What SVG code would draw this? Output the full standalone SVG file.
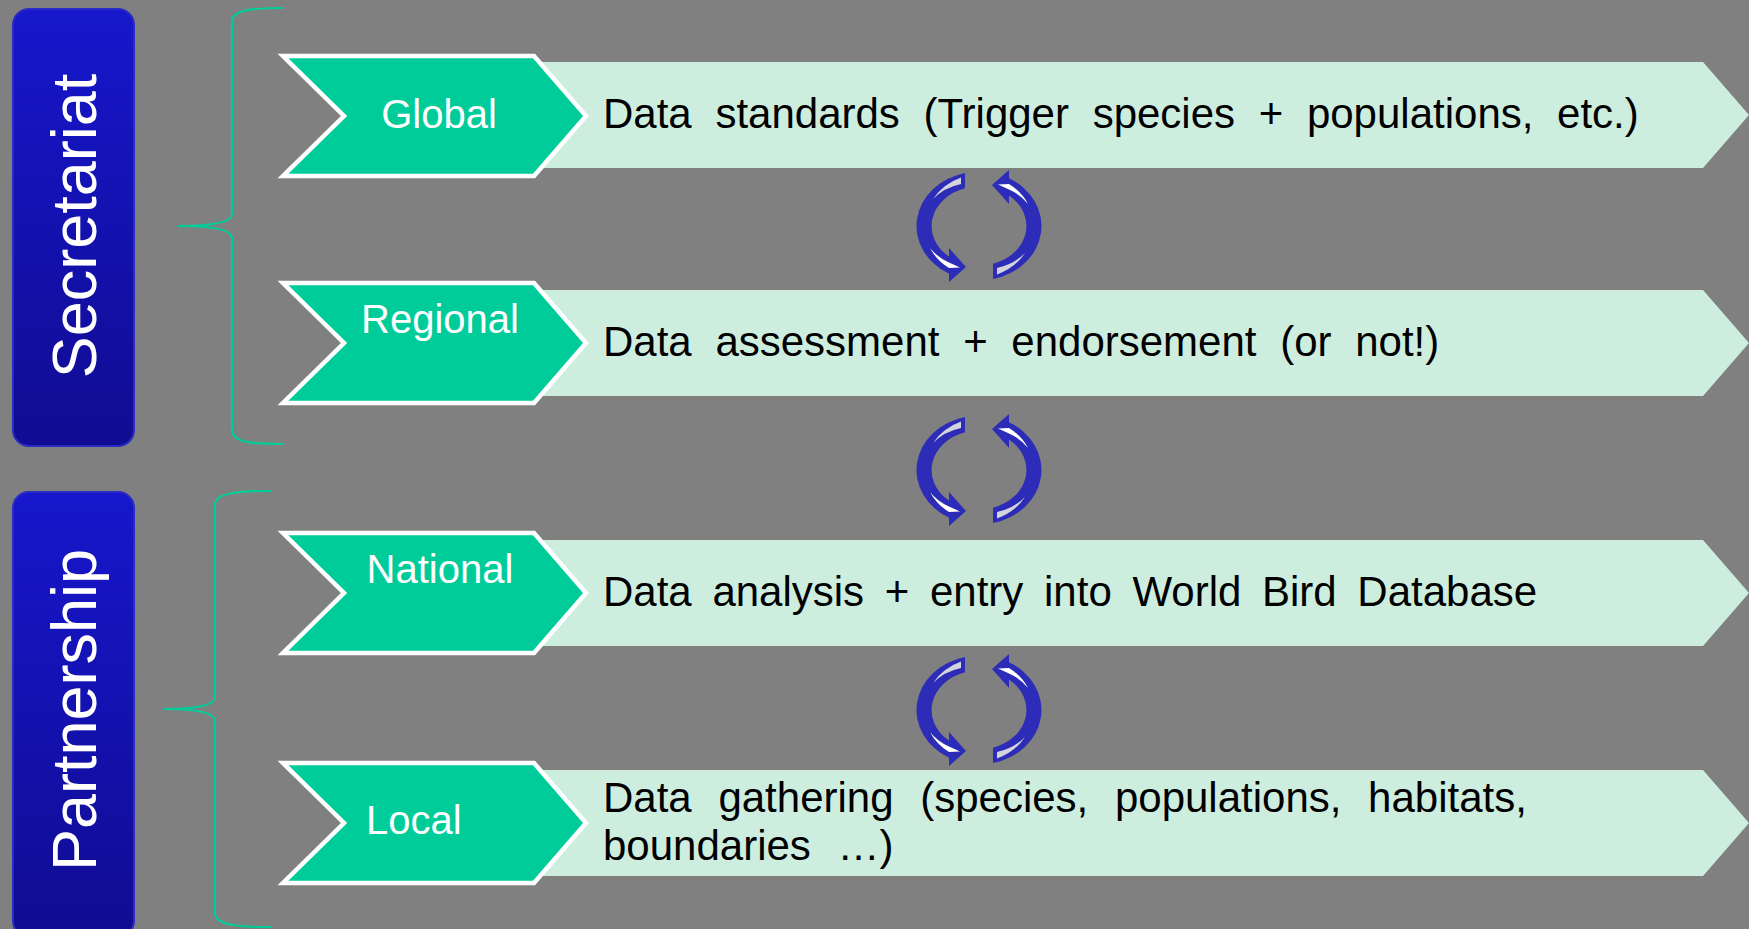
<svg xmlns="http://www.w3.org/2000/svg" xmlns:xlink="http://www.w3.org/1999/xlink" width="1749" height="929" viewBox="0 0 1749 929">
  <style>
    .side { stroke: #2a2ac4; stroke-width: 2; fill: url(#sideFill); }
    .side-label { font-family: "Liberation Sans", Arial, sans-serif; font-size: 63px; fill: #ffffff; text-anchor: middle; }
    .brace { fill: none; stroke: #00cc99; stroke-width: 2.2; }
    .band { fill: #cdeddf; }
    .tag { fill: #00cc99; stroke: #ffffff; stroke-width: 4.5; stroke-linejoin: miter; }
    .tag-label { font-family: "Liberation Sans", Arial, sans-serif; font-size: 40px; fill: #ffffff; }
    .desc { font-family: "Liberation Sans", Arial, sans-serif; font-size: 42px; fill: #000000; }
    .cycle-body { fill: #2c2cb8; }
    .hl-tail { fill: #d4d4dc; }
    .hl-head { fill: #ffffff; }
  </style>
  <defs>
    <linearGradient id="sideFill" x1="0" y1="0" x2="0" y2="1">
      <stop offset="0" stop-color="#1717cc"/>
      <stop offset="1" stop-color="#100c92"/>
    </linearGradient>
    <!-- one half of the refresh symbol: a curved block arrow, centred on (0,0) -->
    <g id="halfCycle">
      <path class="cycle-body" d="M -14,-53.1 A 62.5 54.5 0 0 0 -30,47.8 L -30,56 L -13,41 L -30,22 L -30,30.6 A 47.5 39.5 0 0 1 -14,-37.7 Z"/>
      <!-- glossy highlights: grey wedge at the tail, white wedge into the head -->
      <path class="hl-tail" d="M -18,-48.5 A 58 50 0 0 0 -46,-27 A 53 45 0 0 1 -18,-42 Z"/>
      <path class="hl-head" d="M -49,22 A 58 49 0 0 0 -30,42 L -19,41.5 L -30,36.5 A 52 43 0 0 1 -49,22 Z"/>
    </g>
    <g id="cycle">
      <use xlink:href="#halfCycle"/>
      <use xlink:href="#halfCycle" transform="rotate(180)"/>
    </g>
  </defs>

  <rect width="1749" height="929" fill="#808080"/>

  <!-- left-hand group labels -->
  <g id="secretariat">
    <rect class="side" x="13" y="9" width="121" height="437" rx="16" ry="16"/>
    <text class="side-label" transform="translate(96,226) rotate(-90)">Secretariat</text>
  </g>
  <g id="partnership">
    <rect class="side" x="13" y="492" width="121" height="445" rx="16" ry="16"/>
    <text class="side-label" transform="translate(96,710) rotate(-90)">Partnership</text>
  </g>

  <!-- levels -->
  <g id="global">
    <polygon class="band" points="500,62 1703,62 1749,115 1703,168 500,168"/>
    <polygon class="tag" points="283,56 534,56 586,116 534,176 283,176 344,116"/>
    <text class="tag-label" x="439" y="128" text-anchor="middle">Global</text>
    <text class="desc" x="603" y="128" word-spacing="12">Data standards (Trigger species + populations, etc.)</text>
  </g>
  <g id="regional">
    <polygon class="band" points="500,290 1703,290 1749,343 1703,396 500,396"/>
    <polygon class="tag" points="283,283 534,283 586,343 534,403 283,403 344,343"/>
    <text class="tag-label" x="440" y="333" text-anchor="middle">Regional</text>
    <text class="desc" x="603" y="356" word-spacing="12">Data assessment + endorsement (or not!)</text>
  </g>
  <g id="national">
    <polygon class="band" points="500,540 1703,540 1749,593 1703,646 500,646"/>
    <polygon class="tag" points="283,533 534,533 586,593 534,653 283,653 344,593"/>
    <text class="tag-label" x="440" y="583" text-anchor="middle">National</text>
    <text class="desc" x="603" y="606" word-spacing="9">Data analysis + entry into World Bird Database</text>
  </g>
  <g id="local">
    <polygon class="band" points="500,770 1703,770 1749,823 1703,876 500,876"/>
    <polygon class="tag" points="283,763 534,763 586,823 534,883 283,883 344,823"/>
    <text class="tag-label" x="366" y="834">Local</text>
    <text class="desc" x="603" y="812" word-spacing="15">Data gathering (species, populations, habitats,</text>
    <text class="desc" x="603" y="860" word-spacing="15">boundaries …)</text>
  </g>

  <!-- braces and exchange cycles between levels -->
  <g id="connectors">
    <path class="brace" d="M284,8 C250,8 232,10 232,22 L232,214 C232,222 215,226 178,226 C215,226 232,230 232,238 L232,430 C232,442 250,444 284,444"/>
    <path class="brace" d="M271,491 C237,491 215,493 215,505 L215,697 C215,705 198,709 164,709 C198,709 215,713 215,721 L215,913 C215,925 237,927 271,927"/>
    <use xlink:href="#cycle" transform="translate(979,226)"/>
    <use xlink:href="#cycle" transform="translate(979,470)"/>
    <use xlink:href="#cycle" transform="translate(979,710)"/>
  </g>
</svg>
